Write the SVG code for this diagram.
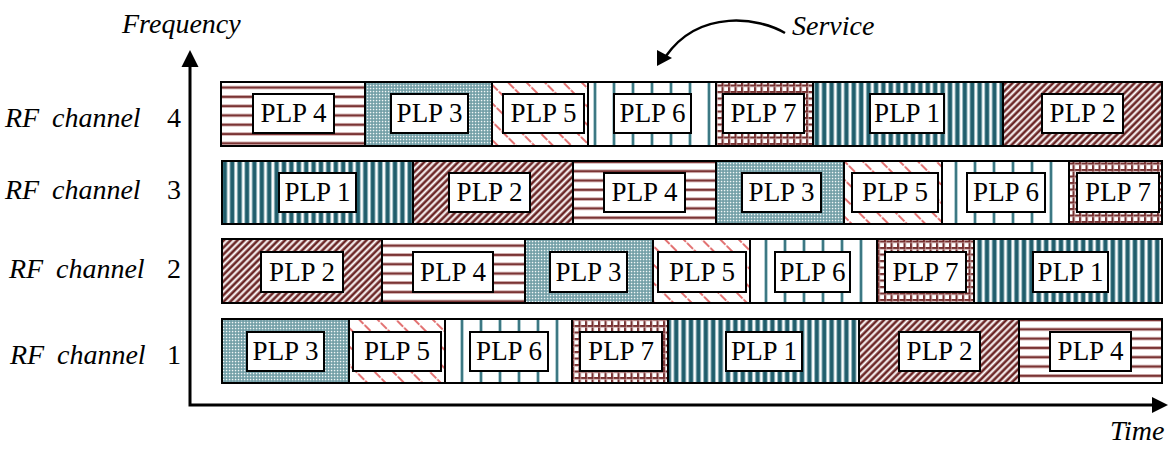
<svg xmlns="http://www.w3.org/2000/svg" width="1170" height="450" viewBox="0 0 1170 450" font-family="Liberation Serif, Times New Roman, DejaVu Serif, serif">
<style>
.seg{stroke:#000;stroke-width:2}
.box{fill:#fff;stroke:#000;stroke-width:2}
.t{font-size:27px;fill:#000;text-anchor:middle}
.lab{font-size:28px;fill:#000}
.it{font-style:italic}
.ax{stroke:#000;stroke-width:3;fill:none}
</style>
<defs>
<pattern id="p1" patternUnits="userSpaceOnUse" width="7.4" height="10">
<rect width="7.4" height="10" fill="#fff"/>
<rect x="0" width="1" height="10" fill="#9dbcc2"/>
<rect x="1" width="3.6" height="10" fill="#1f5d6b"/>
<rect x="4.6" width="1" height="10" fill="#9dbcc2"/>
</pattern>
<pattern id="p2" patternUnits="userSpaceOnUse" width="4.8" height="10" patternTransform="rotate(45)">
<rect width="4.8" height="10" fill="#fff"/>
<rect x="0" width="0.6" height="10" fill="#c8a2a2"/>
<rect x="0.6" width="2.4" height="10" fill="#6a2626"/>
<rect x="3" width="0.6" height="10" fill="#c8a2a2"/>
</pattern>
<pattern id="p3" patternUnits="userSpaceOnUse" width="3" height="3">
<rect width="3" height="3" fill="#6e9ca4"/>
<rect x="0.8" y="0.8" width="1.5" height="1.5" fill="#f2f7f7"/>
</pattern>
<pattern id="p4" patternUnits="userSpaceOnUse" width="10" height="9.3" y="2">
<rect width="10" height="9.3" fill="#fff"/>
<rect y="0" width="10" height="0.8" fill="#d4b0b0"/>
<rect y="0.8" width="10" height="2" fill="#7a3434"/>
<rect y="2.8" width="10" height="0.8" fill="#d4b0b0"/>
</pattern>
<pattern id="p5" patternUnits="userSpaceOnUse" width="13" height="10" patternTransform="rotate(-45)">
<rect width="13" height="10" fill="#fff"/>
<line x1="2" y1="0" x2="2" y2="10" stroke="#e27272" stroke-width="2" stroke-dasharray="6 1.5"/>
</pattern>
<pattern id="p6" patternUnits="userSpaceOnUse" width="19" height="10" x="4">
<rect width="19" height="10" fill="#fff"/>
<rect x="0" width="1" height="10" fill="#b5d0d4"/>
<rect x="1" width="2" height="10" fill="#3c7883"/>
<rect x="3" width="1" height="10" fill="#b5d0d4"/>
</pattern>
<pattern id="p7" patternUnits="userSpaceOnUse" width="6.5" height="6.5">
<rect width="6.5" height="6.5" fill="#fff"/>
<rect x="0" y="0" width="6.5" height="2.2" fill="#763030"/>
<rect x="0" y="0" width="2.2" height="6.5" fill="#763030"/>
<rect x="0" y="2.2" width="6.5" height="0.6" fill="#d8b8b8"/>
<rect x="2.2" y="0" width="0.6" height="6.5" fill="#d8b8b8"/>
</pattern>
</defs>

<g id="row4">
<g id="r4-plp4"><rect class="seg" x="221" y="82" width="144" height="64" fill="url(#p4)"/><rect class="box" x="253" y="94" width="81" height="39"/><text class="t" x="293.5" y="122">PLP 4</text></g>
<g id="r4-plp3"><rect class="seg" x="365" y="82" width="127" height="64" fill="url(#p3)"/><rect class="box" x="391" y="94" width="77" height="39"/><text class="t" x="429.5" y="122">PLP 3</text></g>
<g id="r4-plp5"><rect class="seg" x="492" y="82" width="96" height="64" fill="url(#p5)"/><rect class="box" x="503" y="94" width="81" height="39"/><text class="t" x="543.5" y="122">PLP 5</text></g>
<g id="r4-plp6"><rect class="seg" x="588" y="82" width="128" height="64" fill="url(#p6)"/><rect class="box" x="614" y="94" width="77" height="39"/><text class="t" x="652.5" y="122">PLP 6</text></g>
<g id="r4-plp7"><rect class="seg" x="716" y="82" width="97" height="64" fill="url(#p7)"/><rect class="box" x="723" y="94" width="81" height="39"/><text class="t" x="763.5" y="122">PLP 7</text></g>
<g id="r4-plp1"><rect class="seg" x="813" y="82" width="190" height="64" fill="url(#p1)"/><rect class="box" x="870" y="94" width="74" height="39"/><text class="t" x="907" y="122">PLP 1</text></g>
<g id="r4-plp2"><rect class="seg" x="1003" y="82" width="159" height="64" fill="url(#p2)"/><rect class="box" x="1042" y="94" width="81" height="39"/><text class="t" x="1082.5" y="122">PLP 2</text></g>
</g>

<g id="row3">
<g id="r3-plp1"><rect class="seg" x="222" y="161" width="191" height="63" fill="url(#p1)"/><rect class="box" x="279" y="173" width="77" height="39"/><text class="t" x="317.5" y="201">PLP 1</text></g>
<g id="r3-plp2"><rect class="seg" x="413" y="161" width="160" height="63" fill="url(#p2)"/><rect class="box" x="449" y="173" width="81" height="39"/><text class="t" x="489.5" y="201">PLP 2</text></g>
<g id="r3-plp4"><rect class="seg" x="573" y="161" width="143" height="63" fill="url(#p4)"/><rect class="box" x="604" y="173" width="81" height="39"/><text class="t" x="644.5" y="201">PLP 4</text></g>
<g id="r3-plp3"><rect class="seg" x="716" y="161" width="128" height="63" fill="url(#p3)"/><rect class="box" x="742" y="173" width="79" height="39"/><text class="t" x="781.5" y="201">PLP 3</text></g>
<g id="r3-plp5"><rect class="seg" x="844" y="161" width="98" height="63" fill="url(#p5)"/><rect class="box" x="852" y="173" width="86" height="39"/><text class="t" x="895" y="201">PLP 5</text></g>
<g id="r3-plp6"><rect class="seg" x="942" y="161" width="127" height="63" fill="url(#p6)"/><rect class="box" x="967" y="173" width="78" height="39"/><text class="t" x="1006" y="201">PLP 6</text></g>
<g id="r3-plp7"><rect class="seg" x="1069" y="161" width="93" height="63" fill="url(#p7)"/><rect class="box" x="1077" y="173" width="82" height="39"/><text class="t" x="1118" y="201">PLP 7</text></g>
</g>

<g id="row2">
<g id="r2-plp2"><rect class="seg" x="222" y="239" width="160" height="64" fill="url(#p2)"/><rect class="box" x="261" y="252" width="82" height="40"/><text class="t" x="302" y="281">PLP 2</text></g>
<g id="r2-plp4"><rect class="seg" x="382" y="239" width="143" height="64" fill="url(#p4)"/><rect class="box" x="413" y="252" width="80" height="40"/><text class="t" x="453" y="281">PLP 4</text></g>
<g id="r2-plp3"><rect class="seg" x="525" y="239" width="128" height="64" fill="url(#p3)"/><rect class="box" x="550" y="252" width="77" height="40"/><text class="t" x="588.5" y="281">PLP 3</text></g>
<g id="r2-plp5"><rect class="seg" x="653" y="239" width="97" height="64" fill="url(#p5)"/><rect class="box" x="658" y="252" width="88" height="40"/><text class="t" x="702" y="281">PLP 5</text></g>
<g id="r2-plp6"><rect class="seg" x="750" y="239" width="127" height="64" fill="url(#p6)"/><rect class="box" x="775" y="252" width="75" height="40"/><text class="t" x="812.5" y="281">PLP 6</text></g>
<g id="r2-plp7"><rect class="seg" x="877" y="239" width="97" height="64" fill="url(#p7)"/><rect class="box" x="885" y="252" width="81" height="40"/><text class="t" x="925.5" y="281">PLP 7</text></g>
<g id="r2-plp1"><rect class="seg" x="974" y="239" width="188" height="64" fill="url(#p1)"/><rect class="box" x="1033" y="252" width="75" height="40"/><text class="t" x="1070.5" y="281">PLP 1</text></g>
</g>

<g id="row1">
<g id="r1-plp3"><rect class="seg" x="222" y="319" width="127" height="64" fill="url(#p3)"/><rect class="box" x="247" y="332" width="77" height="39"/><text class="t" x="285.5" y="360">PLP 3</text></g>
<g id="r1-plp5"><rect class="seg" x="349" y="319" width="96" height="64" fill="url(#p5)"/><rect class="box" x="353" y="332" width="88" height="39"/><text class="t" x="397" y="360">PLP 5</text></g>
<g id="r1-plp6"><rect class="seg" x="445" y="319" width="127" height="64" fill="url(#p6)"/><rect class="box" x="470" y="332" width="78" height="39"/><text class="t" x="509" y="360">PLP 6</text></g>
<g id="r1-plp7"><rect class="seg" x="572" y="319" width="96" height="64" fill="url(#p7)"/><rect class="box" x="580" y="332" width="82" height="39"/><text class="t" x="621" y="360">PLP 7</text></g>
<g id="r1-plp1"><rect class="seg" x="668" y="319" width="191" height="64" fill="url(#p1)"/><rect class="box" x="726" y="332" width="76" height="39"/><text class="t" x="764" y="360">PLP 1</text></g>
<g id="r1-plp2"><rect class="seg" x="859" y="319" width="160" height="64" fill="url(#p2)"/><rect class="box" x="899" y="332" width="81" height="39"/><text class="t" x="939.5" y="360">PLP 2</text></g>
<g id="r1-plp4"><rect class="seg" x="1019" y="319" width="143" height="64" fill="url(#p4)"/><rect class="box" x="1050" y="332" width="81" height="39"/><text class="t" x="1090.5" y="360">PLP 4</text></g>
</g>

<g id="labels">
<text class="lab" y="127"><tspan class="it" x="5">RF</tspan><tspan class="it" x="52">channel</tspan><tspan x="167">4</tspan></text>
<text class="lab" y="199"><tspan class="it" x="5">RF</tspan><tspan class="it" x="52">channel</tspan><tspan x="167">3</tspan></text>
<text class="lab" y="278"><tspan class="it" x="9">RF</tspan><tspan class="it" x="56">channel</tspan><tspan x="167">2</tspan></text>
<text class="lab" y="364"><tspan class="it" x="10">RF</tspan><tspan class="it" x="57">channel</tspan><tspan x="167">1</tspan></text>
<text class="lab it" x="122" y="33">Frequency</text>
<text class="lab it" x="792" y="35">Service</text>
<text class="lab it" x="1110" y="440">Time</text>
</g>

<g id="connectors">
<polyline class="ax" points="190,64 190,405 1155,405"/>
<polygon points="190,50 181.5,67 198.5,67" fill="#000"/>
<polygon points="1168,405 1152,397 1152,413" fill="#000"/>
<path d="M785,33 C760,18 700,8 666,56" fill="none" stroke="#000" stroke-width="2.5"/>
<polygon points="657,66 657,50 672,58" fill="#000"/>
</g>
</svg>
